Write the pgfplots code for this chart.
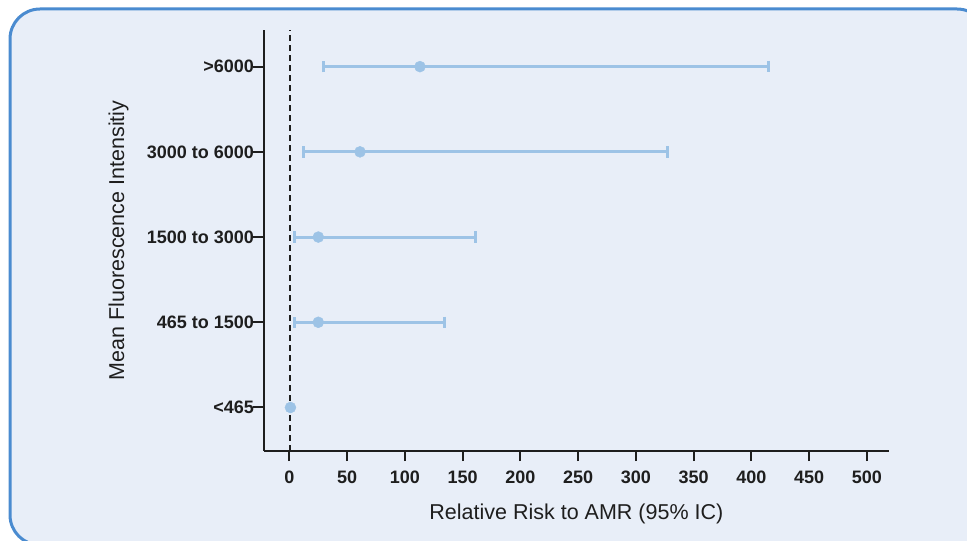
\documentclass[border=0pt]{standalone}
\usepackage{pgfplots}
\usepackage{pgfplotstable}
\pgfplotsset{compat=1.18}
\usepackage{fontspec}
\setmainfont{Liberation Sans}
\definecolor{bgfill}{HTML}{E8EEF8}
\definecolor{framec}{HTML}{4A8BD0}
\definecolor{ci}{HTML}{9DC3E6}
\definecolor{axc}{HTML}{1E1E1E}
\newcommand{\tkf}{\fontsize{18}{20}\selectfont\bfseries}
\newcommand{\lbf}{\fontsize{21.5}{24}\selectfont}
\pgfplotstableread{
y x em ep
4 113.1 83.7 301.8
3 61.2 49.1 266.3
2 25.1 20.8 135.9
1 25.1 20.8 109.1
}\datatable
\pgfplotstableread{
y x
0 1
}\basetable
\begin{document}
\begin{tikzpicture}[x=1pt,y=1pt]
\useasboundingbox (0,0) rectangle (967,541);
\begin{scope}
\clip (0,0) rectangle (967,541);
\draw[framec, line width=3pt, fill=bgfill, rounded corners=30pt] (10,-4) rectangle (987,532);
\end{scope}
\begin{axis}[
  at={(264pt,90.3pt)}, anchor=south west,
  width=624.7pt, height=420.7pt, scale only axis,
  xmin=-21.9, xmax=518.8, ymin=-0.507, ymax=4.43,
  axis x line*=bottom, axis y line*=left,
  axis line style={-, line width=2pt, axc},
  tick style={line width=2pt, axc},
  tick align=outside, major tick length=10.5pt,
  xtick={0,50,100,150,200,250,300,350,400,450,500},
  xticklabels={\tkf 0,\tkf 50,\tkf 100,\tkf 150,\tkf 200,\tkf 250,\tkf 300,\tkf 350,\tkf 400,\tkf 450,\tkf 500},
  ytick={0,1,2,3,4},
  yticklabels={\tkf <465,\tkf 465 to 1500,\tkf 1500 to 3000,\tkf 3000 to 6000,\tkf >6000},
  xticklabel style={text=axc, yshift=-6pt},
  yticklabel style={text=axc, xshift=4pt},
  xlabel={\lbf Relative Risk to AMR (95\% IC)},
  ylabel={\lbf Mean Fluorescence Intensitiy},
  every axis x label/.style={at={(axis description cs:0.5,-0.1505)}, anchor=center, text=axc},
  every axis y label/.style={at={(axis description cs:-0.2329,0.5)}, anchor=center, rotate=90, text=axc},
]
\addplot[axc, line width=2pt, dash pattern=on 6pt off 4pt] coordinates {(1,-0.507) (1,4.43)};
\addplot[only marks, mark=*, mark size=5.5pt, color=ci, mark options={fill=ci, draw=ci},
  error bars/.cd, x dir=both, x explicit, error mark=|,
  error bar style={line width=3pt, color=ci},
  error mark options={line width=3pt, mark size=5.7pt, color=ci}]
  table[x=x, y=y, x error plus=ep, x error minus=em] {\datatable};
\addplot[only marks, mark=*, mark size=5.5pt, color=ci, mark options={fill=ci, draw=ci}]
  table[x=x, y=y] {\basetable};
\end{axis}
\end{tikzpicture}
\end{document}
